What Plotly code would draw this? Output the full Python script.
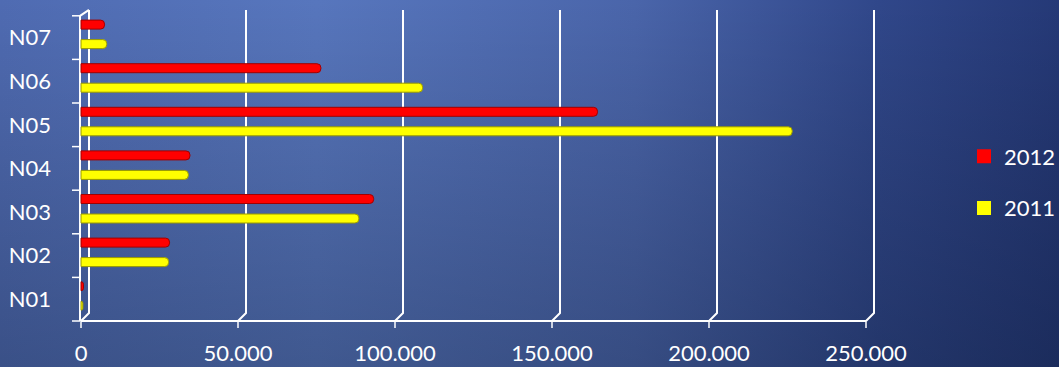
import base64
import plotly.graph_objects as go

# ---- data -------------------------------------------------------------
categories = ["N01", "N02", "N03", "N04", "N05", "N06", "N07"]
values_2011 = [600, 27900, 88500, 34200, 226500, 108800, 8200]
values_2012 = [800, 28200, 93200, 34700, 164500, 76400, 7500]
x_ticks = [0, 50000, 100000, 150000, 200000, 250000]
series_names = ["2012", "2011"]
series_colors = {"2012": "#FF0000", "2011": "#FFFF00"}
series_edges = {"2012": "#A00000", "2011": "#9A9A00"}

# ---- geometry (pixels) ------------------------------------------------
W, H = 1059, 367
PLOT_L, PLOT_R, PLOT_T, PLOT_B = 66, 880, 4, 332
ZERO_PX = 81                  # pixel where x = 0
PX_PER_UNIT = 157 / 50000     # horizontal scale
FLOOR_PX = 321                # pixel of the front floor (y = -0.5)
CAT_PX = 43.6                 # height of one category band
DEPTH_X, DEPTH_Y = 8, 8       # 3D depth offset of the back wall
BACK_TOP = FLOOR_PX - 10      # back wall top, measured from the floor
FRONT_TOP = FLOOR_PX - 16

x_range = [-(ZERO_PX - PLOT_L) / PX_PER_UNIT, (PLOT_R - ZERO_PX) / PX_PER_UNIT]
y_range = [-0.5 - (PLOT_B - FLOOR_PX) / CAT_PX,
           -0.5 + (FLOOR_PX - PLOT_T) / CAT_PX]

# ---- background gradient as an inline SVG -----------------------------
svg = f"""<svg xmlns='http://www.w3.org/2000/svg' width='{W}' height='{H}' viewBox='0 0 {W} {H}' preserveAspectRatio='none'>
<defs>
<linearGradient id='h' x1='0' y1='0' x2='{W}' y2='0' gradientUnits='userSpaceOnUse'>
<stop offset='0' stop-color='#4F6BB2'/>
<stop offset='0.3' stop-color='#5776BD'/>
<stop offset='0.6' stop-color='#4A65AA'/>
<stop offset='0.83' stop-color='#30478A'/>
<stop offset='1' stop-color='#253977'/>
</linearGradient>
<linearGradient id='v' x1='0' y1='0' x2='0' y2='{H}' gradientUnits='userSpaceOnUse'>
<stop offset='0' stop-color='#000000' stop-opacity='0'/>
<stop offset='1' stop-color='#000814' stop-opacity='0.27'/>
</linearGradient>
</defs>
<rect width='{W}' height='{H}' fill='url(#h)'/>
<rect width='{W}' height='{H}' fill='url(#v)'/>
</svg>"""
bg_uri = "data:image/svg+xml;base64," + base64.b64encode(svg.encode()).decode()

pw, ph = PLOT_R - PLOT_L, PLOT_B - PLOT_T

fig = go.Figure()

BAR_W = 9 / CAT_PX
bar_values = {"2012": values_2012, "2011": values_2011}
bar_centres = {"2012": 13 / CAT_PX, "2011": -6.5 / CAT_PX}
for name in series_names:
    fig.add_trace(go.Bar(
        name=name, y=categories, x=bar_values[name], orientation="h",
        offset=bar_centres[name] - BAR_W / 2, width=BAR_W,
        marker=dict(color=series_colors[name],
                    line=dict(color=series_edges[name], width=1),
                    cornerradius=4),
        showlegend=False,
    ))

# legend keys: plain square swatches
for i, name in enumerate(series_names):
    fig.add_trace(go.Scatter(
        name=name, x=[None], y=[None], mode="markers",
        marker=dict(symbol="square", size=14, color=series_colors[name],
                    line=dict(width=0)),
        legendgroup=f"g{i}", showlegend=True,
    ))

# ---- 3D frame: back-wall grid, floor, ticks ---------------------------
line_style = dict(color="#FFFFFF", width=2)
shapes = []
for v in x_ticks:
    # diagonal from the floor to the back wall, then the vertical gridline
    shapes.append(dict(
        type="path", layer="below", xref="x", yref="y",
        xsizemode="pixel", xanchor=v, ysizemode="pixel", yanchor=-0.5,
        path=f"M0,0 L{DEPTH_X},{DEPTH_Y} L{DEPTH_X},{BACK_TOP}",
        line=line_style,
    ))
    # tick mark below the floor
    shapes.append(dict(
        type="line", layer="below", xref="x", yref="y",
        xsizemode="pixel", xanchor=v, x0=0, x1=0,
        ysizemode="pixel", yanchor=-0.5, y0=0, y1=-7,
        line=dict(color="#FFFFFF", width=1.5),
    ))

# front floor line
shapes.append(dict(type="line", layer="below", xref="x", yref="y",
                   x0=0, x1=x_ticks[-1], y0=-0.5, y1=-0.5, line=line_style))
# front left edge and its top diagonal
shapes.append(dict(type="line", layer="below", xref="x", yref="y",
                   xsizemode="pixel", xanchor=0, x0=-1, x1=-1,
                   y0=-0.5, y1=len(categories) - 0.5, line=line_style))
shapes.append(dict(type="path", layer="below", xref="x", yref="y",
                   xsizemode="pixel", xanchor=0, ysizemode="pixel",
                   yanchor=len(categories) - 0.5,
                   path=f"M-1,0 L{DEPTH_X},{BACK_TOP - FRONT_TOP}",
                   line=line_style))
# category boundary ticks on the left
for k in range(len(categories) + 1):
    shapes.append(dict(type="line", layer="below", xref="x", yref="y",
                       xsizemode="pixel", xanchor=0, x0=-9, x1=-1,
                       y0=k - 0.5, y1=k - 0.5,
                       line=dict(color="#FFFFFF", width=1.5)))

font_main = dict(family="Lato, 'Open Sans', sans-serif", size=22, color="#FFFFFF")

fig.update_layout(
    width=W, height=H,
    margin=dict(l=PLOT_L, r=W - PLOT_R, t=PLOT_T, b=H - PLOT_B, pad=0,
                autoexpand=False),
    paper_bgcolor="#3A5296",
    plot_bgcolor="rgba(0,0,0,0)",
    separators=",.",
    barmode="overlay",
    font=font_main,
    shapes=shapes,
    images=[dict(
        source=bg_uri, xref="paper", yref="paper",
        x=-PLOT_L / pw, y=1 + PLOT_T / ph,
        sizex=W / pw, sizey=H / ph,
        xanchor="left", yanchor="top", sizing="stretch", layer="below",
    )],
    xaxis=dict(
        range=x_range, tickvals=x_ticks, tickformat=",d",
        showgrid=False, zeroline=False, showline=False, ticks="",
        ticklabelstandoff=6, tickfont=font_main, fixedrange=True,
        automargin=False,
    ),
    yaxis=dict(
        type="category", range=y_range,
        showgrid=False, zeroline=False, showline=False, ticks="",
        ticklabelstandoff=14, tickfont=font_main, fixedrange=True,
        automargin=False,
    ),
    legend=dict(
        x=(964 - PLOT_L) / pw, xanchor="left",
        y=(PLOT_B - 182.5) / ph, yanchor="middle",
        traceorder="grouped", tracegroupgap=20,
        font=font_main, bgcolor="rgba(0,0,0,0)",
    ),
    showlegend=True,
)

fig.write_html("out.html")
